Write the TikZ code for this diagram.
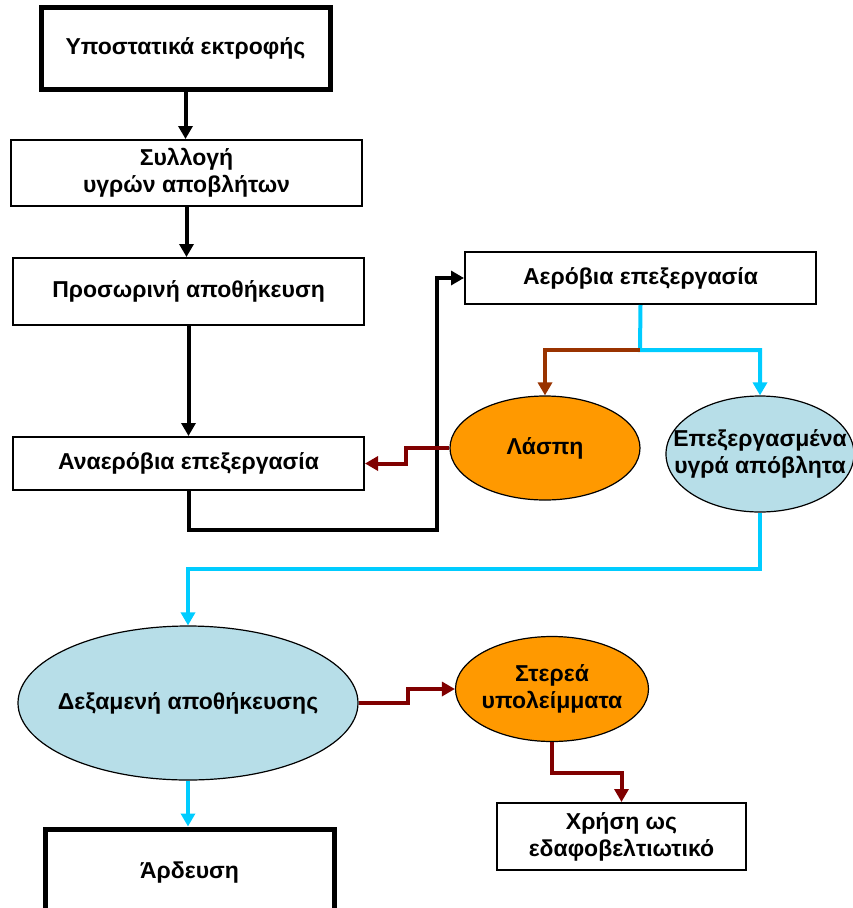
\documentclass[tikz,border=0pt]{standalone}
\usepackage{fontspec}
\setmainfont{Liberation Sans}
\usetikzlibrary{shapes.geometric,arrows.meta,calc}
\definecolor{sludgeorange}{HTML}{FF9900}
\definecolor{waterblue}{HTML}{B7DEE8}
\definecolor{cyanline}{HTML}{00CCFF}
\definecolor{brownline}{HTML}{993300}
\definecolor{redline}{HTML}{800000}
\begin{document}
\begin{tikzpicture}[x=1pt,y=-1pt,>={Triangle[length=13pt,width=14pt]},
	font=\fontsize{23}{27}\selectfont\bfseries,
	box/.style={draw,line width=2pt,rectangle,inner sep=0pt,align=center},
	thickbox/.style={box,line width=5pt},
	blob/.style={draw,line width=1.2pt,ellipse,inner sep=0pt},
	blk/.style={->,line width=4pt},
	cyn/.style={->,color=cyanline,line width=4pt},
	brn/.style={->,color=brownline,line width=4pt},
	red/.style={->,color=redline,line width=4pt}]
		\useasboundingbox (0,0) rectangle (853,908);
		\clip (0,0) rectangle (853,908);
		\node[thickbox,minimum width=289pt,minimum height=82pt] (farm) at (185.5,48.5) {Υποστατικά εκτροφής};
		\node[box,minimum width=351pt,minimum height=66pt] (collect) at (186.5,173) {Συλλογή\\υγρών αποβλήτων};
		\node[box,minimum width=351pt,minimum height=67pt] (store) at (188.5,291.5) {Προσωρινή αποθήκευση};
		\node[box,minimum width=351pt,minimum height=53pt] (anaer) at (188.5,463.5) {Αναερόβια επεξεργασία};
		\node[box,minimum width=351pt,minimum height=52pt] (aer) at (640.5,278) {Αερόβια επεξεργασία};
		\node[blob,fill=sludgeorange,minimum width=190pt,minimum height=104pt,label={center:Λάσπη}] (sludge) at (545,448) {};
		\node[blob,fill=waterblue,minimum width=188pt,minimum height=116pt,label={[align=center]center:Επεξεργασμένα\\υγρά απόβλητα}] (treated) at (760,454) {};
		\node[blob,fill=waterblue,minimum width=340pt,minimum height=154pt,label={center:Δεξαμενή αποθήκευσης}] (tank) at (188,703) {};
		\node[blob,fill=sludgeorange,minimum width=193pt,minimum height=105pt,label={[align=center]center:Στερεά\\υπολείμματα}] (solids) at (552,689) {};
		\node[box,minimum width=249pt,minimum height=67pt] (soil) at (621.5,836.5) {Χρήση ως\\εδαφοβελτιωτικό};
		\node[thickbox,minimum width=289pt,minimum height=88pt] (irrig) at (189.5,873) {Άρδευση};
		\coordinate (bend) at (437,530);
		\coordinate (split) at (640,350);
		% black flow
		\draw[blk] (farm.south) -- (farm.south |- collect.north);
		\draw[blk] (collect.south) -- (collect.south |- store.north);
		\draw[blk] (store.south) -- (anaer.north);
		\draw[blk] (anaer.south) |- (bend) |- (aer.west);
		% after aerobic treatment
		\draw[cyn] (aer.south) -- (split) -| (treated.north);
		\draw[brn] (split) -| (sludge.north);
		\draw[red] (sludge.west) -- ++(-43,0) |- (anaer.east);
		\draw[cyn] (treated.south) -- ++(0,56) -| (tank.north);
		\draw[red] (tank.east) -- ++(49,0) |- (solids.west);
		\draw[red] (solids.south) -- ++(0,31) -| (soil.north);
		\draw[cyn] (tank.south) -- (tank.south |- irrig.north);
\end{tikzpicture}
\end{document}
